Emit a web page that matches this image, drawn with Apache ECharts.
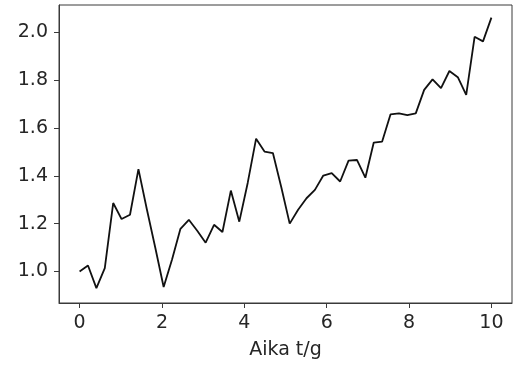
<!DOCTYPE html>
<html>
<head>
<meta charset="utf-8">
<script src="https://cdn.jsdelivr.net/npm/echarts@6/dist/echarts.min.js"></script>
<style>
  html, body { margin: 0; padding: 0; background: #fff; }
  #chart { width: 528px; height: 371px; }
</style>
</head>
<body>
<div id="chart"></div>
<script>
// Sample times (t/g)
const times = [
  0, 0.204, 0.408, 0.612, 0.816, 1.020, 1.224, 1.429, 1.633, 1.837,
  2.041, 2.245, 2.449, 2.653, 2.857, 3.061, 3.265, 3.469, 3.673, 3.878,
  4.082, 4.286, 4.490, 4.694, 4.898, 5.102, 5.306, 5.510, 5.714, 5.918,
  6.122, 6.327, 6.531, 6.735, 6.939, 7.143, 7.347, 7.551, 7.755, 7.959,
  8.163, 8.367, 8.571, 8.776, 8.980, 9.184, 9.388, 9.592, 9.796, 10
];
// Measured values at each time
const values = [
  1.000, 1.025, 0.930, 1.014, 1.286, 1.219, 1.237, 1.428, 1.260, 1.100,
  0.935, 1.050, 1.178, 1.216, 1.170, 1.120, 1.195, 1.165, 1.338, 1.208,
  1.370, 1.555, 1.501, 1.495, 1.352, 1.200, 1.258, 1.306, 1.341, 1.401,
  1.411, 1.376, 1.463, 1.466, 1.392, 1.539, 1.543, 1.657, 1.661, 1.654,
  1.661, 1.759, 1.803, 1.766, 1.838, 1.812, 1.738, 1.981, 1.962, 2.061
];
const xTicks = [0, 2, 4, 6, 8, 10];
const yTicks = [1.0, 1.2, 1.4, 1.6, 1.8, 2.0];
const xTitle = 'Aika t/g';

const textColor = '#262626';
const axisColor = '#3a3a3a';
const font = 'DejaVu Sans';

const chart = echarts.init(document.getElementById('chart'), null, { renderer: 'canvas' });
chart.setOption({
  animation: false,
  backgroundColor: '#ffffff',
  grid: {
    left: 59, right: 16, top: 5, bottom: 68,
    show: true, borderColor: axisColor, borderWidth: 1, backgroundColor: 'transparent'
  },
  xAxis: {
    type: 'value',
    min: -0.5, max: 10.5,
    name: xTitle,
    nameLocation: 'middle',
    nameGap: 38,
    nameTextStyle: { color: textColor, fontSize: 19, fontFamily: font },
    axisLine: { show: true, onZero: false, lineStyle: { color: axisColor, width: 1 } },
    axisTick: { show: true, inside: false, length: 5, customValues: xTicks, lineStyle: { color: axisColor } },
    axisLabel: {
      customValues: xTicks, margin: 11,
      color: textColor, fontSize: 19, fontFamily: font,
      formatter: v => String(v)
    },
    splitLine: { show: false }
  },
  yAxis: {
    type: 'value',
    min: 0.868, max: 2.114,
    axisLine: { show: true, onZero: false, lineStyle: { color: axisColor, width: 1 } },
    axisTick: { show: true, inside: false, length: 5, customValues: yTicks, lineStyle: { color: axisColor } },
    axisLabel: {
      customValues: yTicks, margin: 11,
      color: textColor, fontSize: 19, fontFamily: font,
      formatter: v => v.toFixed(1)
    },
    splitLine: { show: false }
  },
  series: [{
    type: 'line',
    data: times.map((t, i) => [t, values[i]]),
    showSymbol: false,
    lineStyle: { color: '#111111', width: 1.8 },
    z: 3
  }]
});
</script>
</body>
</html>
